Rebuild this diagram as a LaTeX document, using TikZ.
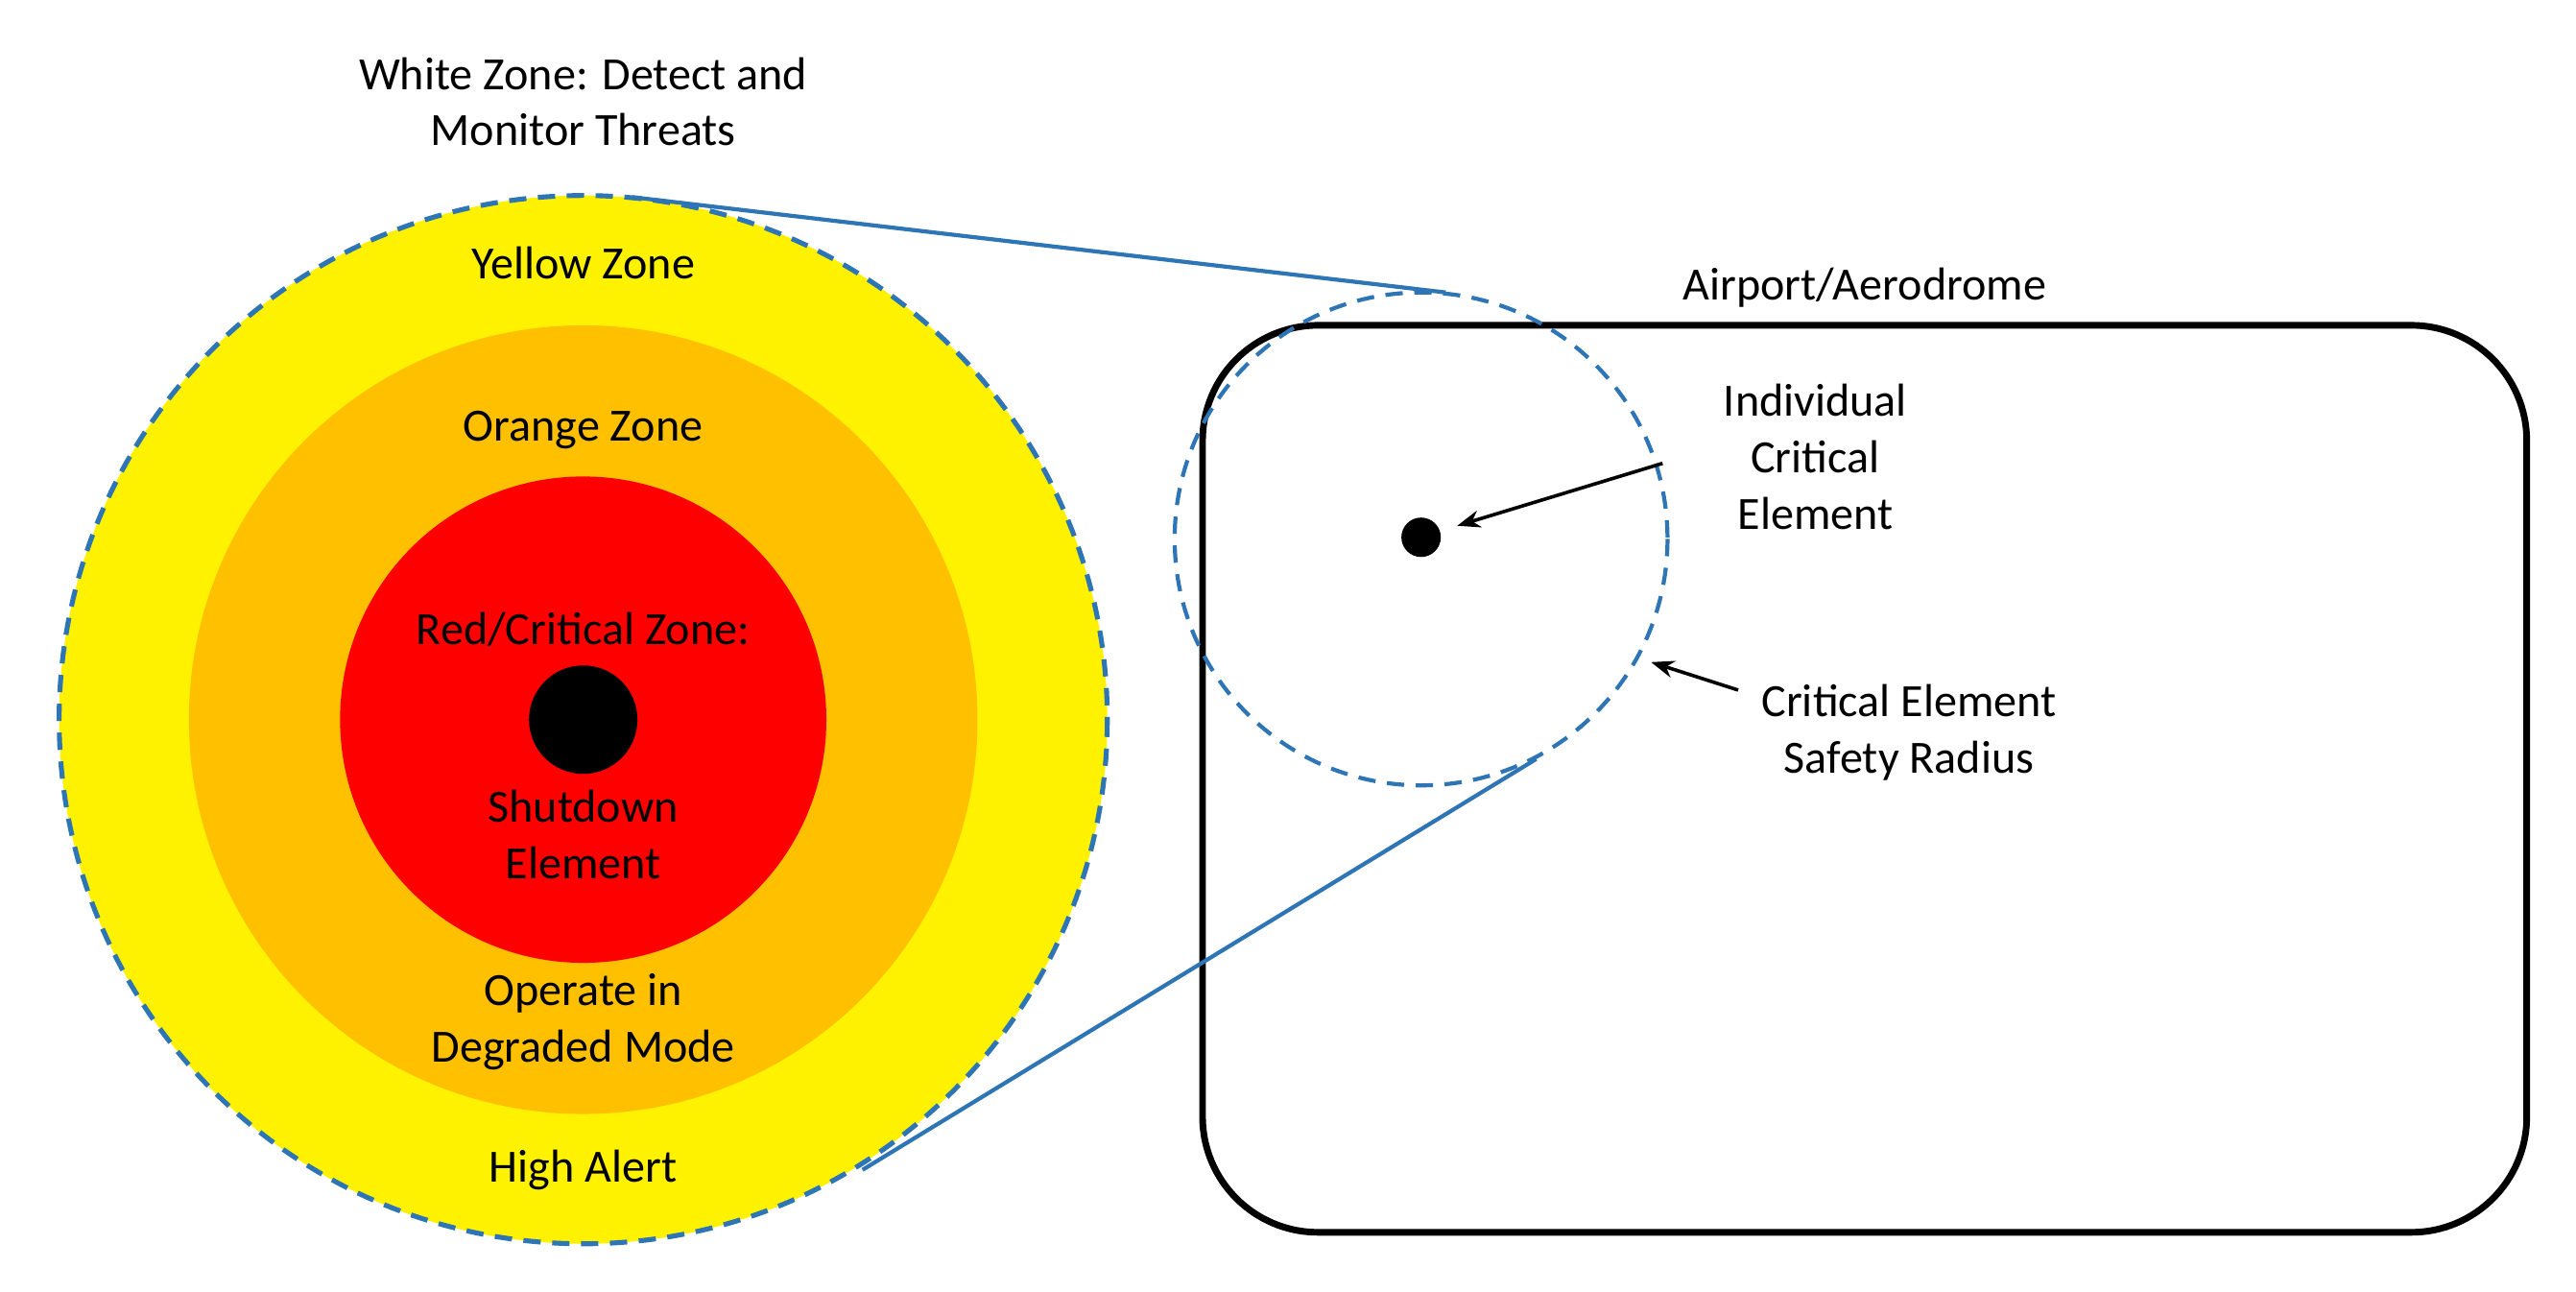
\documentclass[tikz,border=0pt]{standalone}
\usepackage{fontspec}
\setmainfont{Carlito}
\usetikzlibrary{arrows.meta}
\definecolor{zblue}{HTML}{2E75B6}
\definecolor{zorange}{HTML}{FFC000}
\begin{document}
\begin{tikzpicture}[x=0.02cm,y=-0.02cm,
  lbl/.style={font=\fontsize{16}{19.5}\selectfont,align=center,inner sep=0pt},
  dsh/.style={draw=zblue,line width=1.7pt,dash pattern=on 6pt off 4pt},
  arr/.style={-{Stealth[length=8pt,width=6pt]},line width=1.2pt}]
\useasboundingbox (0,0) rectangle (1568,786);
\fill[yellow] (355,438) circle (319);
\fill[zorange] (355,438) circle (240);
\fill[red] (355,438) circle (148);
\fill[black] (355,438) circle (33);
\draw[dsh] (355,438) circle (319);
\draw[line width=2.3pt,rounded corners=40pt] (732,198) rectangle (1538,750);
\draw[dsh,line width=1.4pt] (865,328) circle (150);
\fill (865,327) circle (12);
\coordinate (t1) at (385,120); \coordinate (t2) at (880,178);
\coordinate (b1) at (525,712); \coordinate (b2) at (935,462);
\draw[zblue,line width=1.4pt] (t1) -- (t2);
\draw[zblue,line width=1.4pt] (b1) -- (b2);
\node[lbl] (w) at (355,62) {White Zone: Detect and\\Monitor Threats};
\node[lbl] (y) at (355,160) {Yellow Zone};
\node[lbl] (o) at (355,262) {Orange Zone};
\node[lbl] (r) at (355,383) {Red/Critical Zone:};
\node[lbl] (s) at (355,508) {Shutdown\\Element};
\node[lbl] (d) at (355,622) {Operate in\\Degraded Mode};
\node[lbl] (h) at (355,712) {High Alert};
\node[lbl] (ap) at (1135,175) {Airport/Aerodrome};
\node[lbl] (ice) at (1105,278) {Individual\\Critical\\Element};
\node[lbl] (sr) at (1162,446) {Critical Element\\Safety Radius};
\coordinate (e1) at (887,320);
\coordinate (e2) at (1005,403);
\draw[arr] (1012,282) -- (e1);
\draw[arr] (1058,420) -- (e2);
\end{tikzpicture}
\end{document}
